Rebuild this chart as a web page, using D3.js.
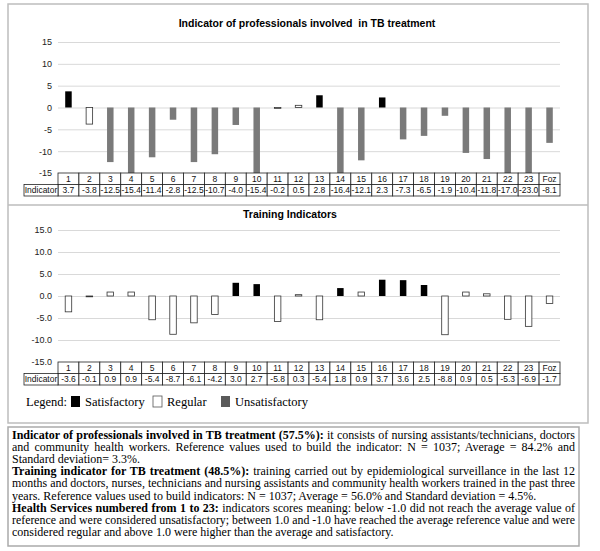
<!DOCTYPE html>
<html>
<head>
<meta charset="utf-8">
<script src="https://cdn.jsdelivr.net/npm/d3@7"></script>
<style>
  body { margin: 0; background: #fff; }
  svg { display: block; }
</style>
</head>
<body>
<div id="chart"></div>
<script>
const categories = ["1", "2", "3", "4", "5", "6", "7", "8", "9", "10", "11", "12",
  "13", "14", "15", "16", "17", "18", "19", "20", "21", "22", "23", "Foz"];

const professionalValues = [3.7, -3.8, -12.5, -15.4, -11.4, -2.8, -12.5, -10.7, -4.0, -15.4, -0.2, 0.5,
  2.8, -16.4, -12.1, 2.3, -7.3, -6.5, -1.9, -10.4, -11.8, -17.0, -23.0, -8.1];
const professionalClass = ["S", "R", "U", "U", "U", "U", "U", "U", "U", "U", "R", "R",
  "S", "U", "U", "S", "U", "U", "U", "U", "U", "U", "U", "U"];

const trainingValues = [-3.6, -0.1, 0.9, 0.9, -5.4, -8.7, -6.1, -4.2, 3.0, 2.7, -5.8, 0.3,
  -5.4, 1.8, 0.9, 3.7, 3.6, 2.5, -8.8, 0.9, 0.5, -5.3, -6.9, -1.7];
const trainingClass = ["R", "R", "R", "R", "R", "R", "R", "R", "S", "S", "R", "R",
  "R", "S", "R", "S", "S", "S", "R", "R", "R", "R", "R", "R"];

const yTicks = [15, 10, 5, 0, -5, -10, -15];

const legendItems = [
  { key: "S", label: "Satisfactory" },
  { key: "R", label: "Regular" },
  { key: "U", label: "Unsatisfactory" }
];

// note text: [bold part, normal part, justified?]
const noteLines = [
  ["Indicator of professionals involved in TB treatment (57.5%):", " it consists of nursing assistants/technicians, doctors", true],
  ["", "and community health workers. Reference values used to build the indicator: N = 1037; Average = 84.2% and", true],
  ["", "Standard deviation= 3.3%.", false],
  ["Training indicator for TB treatment (48.5%):", " training carried out by epidemiological surveillance in the last 12", true],
  ["", "months and doctors, nurses, technicians and nursing assistants and community health workers trained in the past three", true],
  ["", "years. Reference values used to build indicators: N = 1037; Average = 56.0% and Standard deviation = 4.5%.", false],
  ["Health Services numbered from 1 to 23:", " indicators scores meaning: below -1.0 did not reach the average value of", true],
  ["", "reference and were considered unsatisfactory; between 1.0 and -1.0 have reached the average reference value and were", true],
  ["", "considered regular and above 1.0 were higher than the average and satisfactory.", false]
];

const width = 600, height = 551;
const sans = "'Liberation Sans', Arial, sans-serif";
const serif = "'Liberation Serif', 'Times New Roman', serif";
const fillFor = { S: "#000", R: "#fff", U: "#7a7a7a" };

const svg = d3.select("#chart").append("svg")
  .attr("width", width)
  .attr("height", height);

svg.append("rect").attr("width", width).attr("height", height).attr("fill", "#fff");

// chart panel frame
svg.append("rect")
  .attr("x", 8).attr("y", 4).attr("width", 580).attr("height", 419)
  .attr("fill", "none").attr("stroke", "#bdbdbd").attr("stroke-width", 1.5);
svg.append("line")
  .attr("x1", 8).attr("x2", 588).attr("y1", 205).attr("y2", 205)
  .attr("stroke", "#bdbdbd").attr("stroke-width", 1.5);

const x = d3.scaleBand().domain(categories).range([58, 560]);

function drawChart(opt) {
  const g = svg.append("g");
  const y = d3.scaleLinear().domain([-15, 15]).range([opt.bottom, opt.top]).clamp(true);

  g.append("text")
    .attr("x", opt.titleX).attr("y", opt.titleY)
    .attr("text-anchor", "middle")
    .style("white-space", "pre")
    .attr("font-family", sans).attr("font-size", 10.5).attr("font-weight", "bold")
    .text(opt.title);

  const axis = g.append("g")
    .attr("transform", "translate(58,0)")
    .call(d3.axisLeft(y).tickValues(yTicks).tickSize(-(560 - 58)).tickPadding(6).tickFormat(opt.fmt));
  axis.select(".domain").remove();
  axis.selectAll(".tick line").attr("stroke", "#d9d9d9").attr("stroke-width", 1);
  axis.selectAll(".tick text").attr("font-family", sans).attr("font-size", 9).attr("fill", "#222");

  const bw = 6.5;
  g.selectAll("rect.bar")
    .data(opt.values.map((v, i) => ({ c: categories[i], v: v, k: opt.classes[i] })))
    .join("rect")
    .attr("class", "bar")
    .attr("x", d => x(d.c) + x.bandwidth() / 2 - bw / 2)
    .attr("width", bw)
    .attr("y", d => y(Math.max(0, d.v)))
    .attr("height", d => Math.max(0.8, Math.abs(y(d.v) - y(0))))
    .attr("fill", d => fillFor[d.k])
    .attr("stroke", d => d.k === "R" ? "#333" : "none")
    .attr("stroke-width", 0.8);

  // data table below the plot
  const t0 = opt.bottom, rh = 11.5;
  const tbl = g.append("g").attr("font-family", sans).attr("font-size", 8.5).attr("fill", "#111");
  tbl.selectAll("rect.cat")
    .data(categories)
    .join("rect")
    .attr("x", d => x(d)).attr("y", t0)
    .attr("width", x.bandwidth()).attr("height", rh)
    .attr("fill", "#fff").attr("stroke", "#222").attr("stroke-width", 0.8);
  tbl.selectAll("rect.val")
    .data(categories)
    .join("rect")
    .attr("x", d => x(d)).attr("y", t0 + rh)
    .attr("width", x.bandwidth()).attr("height", rh)
    .attr("fill", "#fff").attr("stroke", "#222").attr("stroke-width", 0.8);
  tbl.append("rect")
    .attr("x", 24).attr("y", t0 + rh).attr("width", 58 - 24).attr("height", rh)
    .attr("fill", "#fff").attr("stroke", "#222").attr("stroke-width", 0.8);
  tbl.append("text")
    .attr("x", 41).attr("y", t0 + rh * 1.5 + 3)
    .attr("text-anchor", "middle")
    .text("Indicator");
  tbl.selectAll("text.cat")
    .data(categories)
    .join("text")
    .attr("class", "cat")
    .attr("x", d => x(d) + x.bandwidth() / 2)
    .attr("y", t0 + rh * 0.5 + 3)
    .attr("text-anchor", "middle")
    .text(d => d);
  tbl.selectAll("text.val")
    .data(opt.values)
    .join("text")
    .attr("class", "val")
    .attr("x", (d, i) => x(categories[i]) + x.bandwidth() / 2)
    .attr("y", t0 + rh * 1.5 + 3)
    .attr("text-anchor", "middle")
    .text(d => d.toFixed(1));
}

drawChart({
  title: "Indicator of professionals involved  in TB treatment",
  titleX: 307, titleY: 27,
  values: professionalValues, classes: professionalClass,
  top: 42, bottom: 173,
  fmt: d => String(d)
});

drawChart({
  title: "Training Indicators",
  titleX: 290, titleY: 218,
  values: trainingValues, classes: trainingClass,
  top: 230, bottom: 362,
  fmt: d => d.toFixed(1)
});

// legend
const legend = svg.append("g").attr("font-family", serif).attr("font-size", 12.5);
legend.append("text").attr("x", 26).attr("y", 406).text("Legend:");
const legendX = [71, 153, 221];
legendItems.forEach((it, i) => {
  legend.append("rect")
    .attr("x", legendX[i]).attr("y", 396).attr("width", 9).attr("height", 11)
    .attr("fill", it.key === "U" ? "#5a5a5a" : fillFor[it.key])
    .attr("stroke", it.key === "R" ? "#555" : "none").attr("stroke-width", 0.8);
  legend.append("text").attr("x", legendX[i] + 14).attr("y", 406).text(it.label);
});

// notes box
svg.append("rect")
  .attr("x", 8).attr("y", 427).attr("width", 571).attr("height", 119)
  .attr("fill", "none").attr("stroke", "#aaa").attr("stroke-width", 1.5);

const notes = svg.append("g").attr("font-family", serif).attr("font-size", 12).attr("fill", "#000");
noteLines.forEach((ln, i) => {
  const t = notes.append("text").attr("x", 12).attr("y", 438.5 + i * 12.2);
  if (ln[0]) t.append("tspan").attr("font-weight", "bold").text(ln[0]);
  t.append("tspan").text(ln[1]);
  if (ln[2]) {
    const target = 575 - 12;
    const natural = t.node().getComputedTextLength();
    const spaces = (ln[0] + ln[1]).split(" ").length - 1;
    if (natural <= target) {
      t.attr("word-spacing", (target - natural) / spaces);
    } else {
      t.attr("textLength", target).attr("lengthAdjust", "spacingAndGlyphs");
    }
  }
});
</script>
</body>
</html>
